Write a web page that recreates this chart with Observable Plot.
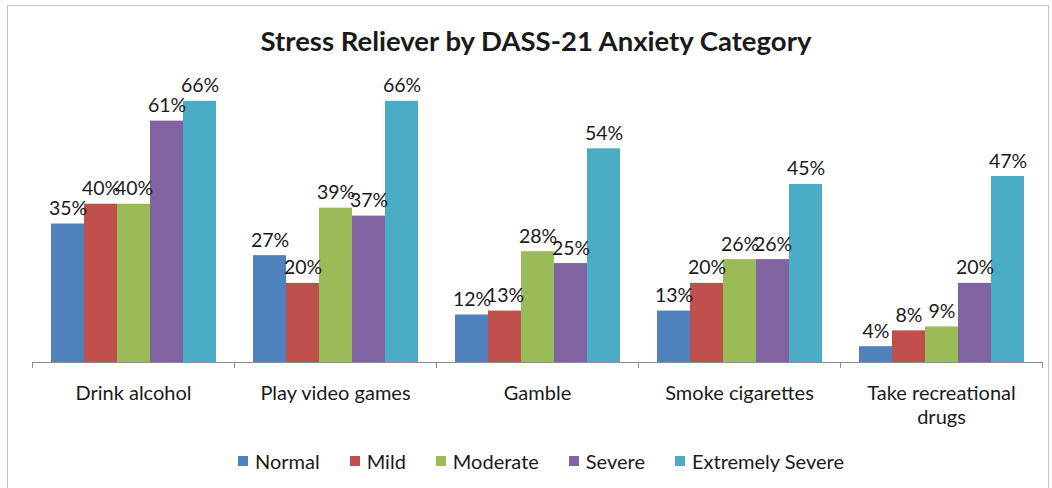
<!DOCTYPE html>
<html><head><meta charset="utf-8">
<script src="https://cdn.jsdelivr.net/npm/d3@7"></script>
<script src="https://cdn.jsdelivr.net/npm/@observablehq/plot@0.6"></script>
<style>
html,body{margin:0;padding:0;background:#fff;}
#wrap{position:relative;width:1052px;height:488px;overflow:hidden;font-family:Lato,sans-serif;color:#1a1a1a;}
#frame{position:absolute;left:7px;top:5px;width:1042px;height:600px;border:1px solid #c4c4c4;box-sizing:border-box;}
#title{position:absolute;left:0;width:1072px;top:27px;text-align:center;font-weight:700;font-size:27.5px;line-height:1;}
#chart{position:absolute;left:0;top:0;}
#legend{position:absolute;left:238px;top:451px;display:flex;gap:30px;font-size:20px;line-height:1;}
.item{display:flex;align-items:center;gap:7px;}
.sw{width:10px;height:10px;}
</style>
</head><body>
<div id="wrap">
  <div id="frame"></div>
  <div id="chart"></div>
  <div id="title">Stress Reliever by DASS-21 Anxiety Category</div>
  <div id="legend"></div>
</div>
<script>
const categories = ["Drink alcohol","Play video games","Gamble","Smoke cigarettes","Take recreational drugs"];
const categoryLabels = ["Drink alcohol","Play video games","Gamble","Smoke cigarettes","Take recreational\ndrugs"];
const series = ["Normal","Mild","Moderate","Severe","Extremely Severe"];
const colors = ["#4F81BD","#C0504D","#9BBB59","#8064A2","#4BACC6"];
const normal = [35,27,12,13,4];
const mild = [40,20,13,20,8];
const moderate = [40,39,28,26,9];
const severe = [61,37,25,26,20];
const extremelySevere = [66,66,54,45,47];
const yDomain = [0,70];

const seriesValues = [normal, mild, moderate, severe, extremelySevere];
const rows = [];
categories.forEach((c, i) => series.forEach((s, j) => rows.push({category: c, series: s, value: seriesValues[j][i]})));

const chart = Plot.plot({
  width: 1052, height: 488,
  marginTop: 85, marginBottom: 126, marginLeft: 31, marginRight: 10,
  style: {fontFamily: "Lato, sans-serif", fontSize: "20px", color: "#1a1a1a", background: "transparent", overflow: "visible"},
  fx: {domain: categories, padding: 0, label: null},
  x: {domain: series, axis: null, paddingInner: 0, paddingOuter: 0.5},
  y: {domain: yDomain, axis: null},
  color: {domain: series, range: colors},
  marks: [
    Plot.barY(rows, {fx: "category", x: "series", y: "value", fill: "series"}),
    Plot.ruleY([0], {stroke: "#8c8c8c"}),
    Plot.text(rows, {fx: "category", x: "series", y: "value", text: d => d.value + "%", lineAnchor: "bottom", dy: -9, fontSize: 19.5, fill: "#1a1a1a"}),
    Plot.axisFx({anchor: "bottom", tickSize: 0, tickPadding: 20, label: null, fontSize: 20, lineHeight: 1.2,
      tickFormat: d => categoryLabels[categories.indexOf(d)], fill: "#1a1a1a"})
  ]
});
document.getElementById("chart").appendChild(chart);

// category boundary ticks from the fx scale
const fxs = chart.scale("fx");
const ys = chart.scale("y");
let fxApply = fxs.apply;
let bw = fxs.bandwidth;
if (!fxApply) {
  const b = d3.scaleBand().domain(fxs.domain).range(fxs.range).padding(0);
  fxApply = b; bw = b.bandwidth();
}
const y0 = ys.apply ? ys.apply(0) : d3.scaleLinear().domain(ys.domain).range(ys.range)(0);
const edges = categories.map(c => fxApply(c)).concat([fxApply(categories[categories.length - 1]) + bw]);
d3.select(chart).append("g").attr("stroke", "#8c8c8c")
  .selectAll("line").data(edges).join("line")
  .attr("x1", d => Math.round(d) + 0.5).attr("x2", d => Math.round(d) + 0.5)
  .attr("y1", y0).attr("y2", y0 + 6);

// legend
const legend = d3.select("#legend");
series.forEach((s, i) => {
  const it = legend.append("div").attr("class", "item");
  it.append("div").attr("class", "sw").style("background", colors[i]);
  it.append("span").text(s);
});
</script>
</body></html>
